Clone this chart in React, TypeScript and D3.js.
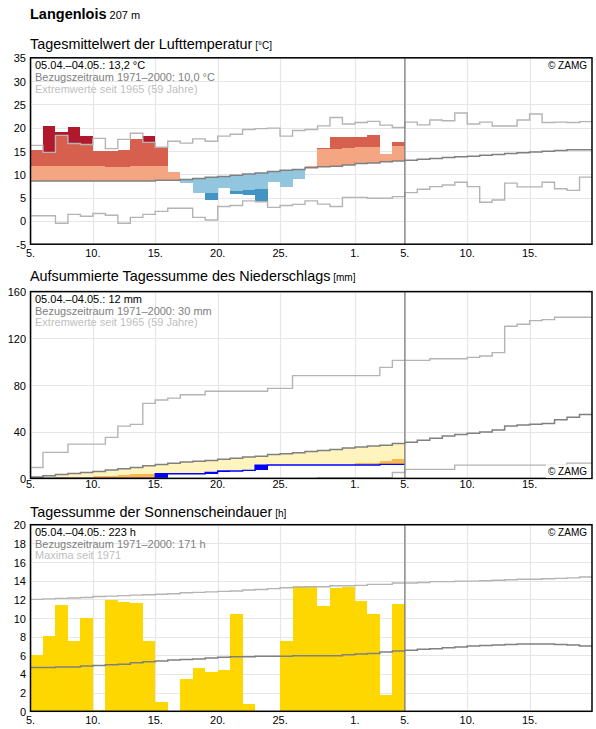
import React, { useEffect, useRef } from 'react';
import * as d3 from 'd3';

const FONT = '"Liberation Sans", Arial, Helvetica, sans-serif';

// days run from 5 April (index 0) to 19 May; observations cover 30 days
const totalDays = 45;
const todayIndex = 30;
const dayTicks = [0, 5, 10, 15, 20, 26, 30, 35, 40];
const dayTickLabels = ['5.', '10.', '15.', '20.', '25.', '1.', '5.', '10.', '15.'];

// air temperature (daily mean, °C)
const tempObserved = [15.2, 20.35, 19.0, 20.15, 18.2, 15.0, 15.0, 15.2, 17.6, 18.2, 15.6, 10.5, 8.2, 6.05, 4.55, 7.05, 5.85, 5.55, 4.3, 8.4, 7.3, 9.0, 11.75, 15.6, 18.0, 18.0, 18.0, 18.4, 14.35, 17.0];
const tempMean = [8.55, 8.55, 8.55, 8.55, 8.55, 8.55, 8.55, 8.55, 8.55, 8.55, 8.7, 8.7, 8.9, 9.1, 9.35, 9.55, 9.77, 10.05, 10.3, 10.6, 10.85, 11.05, 11.4, 11.6, 11.75, 12.0, 12.3, 12.4, 12.7, 12.85, 13.03, 13.25, 13.4, 13.6, 13.75, 13.9, 14.1, 14.25, 14.45, 14.6, 14.8, 14.95, 15.1, 15.25, 15.25];
const tempUpper = [11.8, 11.8, 11.8, 11.8, 11.8, 11.8, 11.6, 11.6, 11.8, 11.8, 11.8, 12.0, 12.2, 12.4, 12.7, 12.9, 13.1, 13.4, 13.6, 13.9, 14.1, 14.4, 14.9, 15.4, 15.4, 15.6, 15.85, 15.85, 16.0, 16.1];
const tempLower = [5.2, 5.2, 5.2, 5.2, 5.2, 5.2, 5.2, 5.2, 5.2, 5.2, 5.4, 5.5, 5.7, 5.9, 6.05, 6.3, 6.5, 6.7, 6.9, 7.0, 7.1, 7.5, 7.8, 8.0, 8.2, 8.4, 8.7, 8.9, 9.1, 9.3];
const tempMax = [16.2, 14.7, 18.35, 16.6, 16.4, 17.7, 15.5, 17.5, 18.8, 16.85, 15.8, 17.1, 16.7, 17.6, 17.1, 18.2, 18.6, 19.6, 19.8, 19.9, 18.2, 19.4, 19.6, 20.4, 22.2, 20.8, 21.1, 21.35, 20.55, 20.05, 21.2, 20.6, 21.65, 21.5, 23.15, 20.8, 21.2, 20.35, 20.35, 21.65, 22.95, 21.1, 21.2, 21.1, 21.3];
const tempMin = [1.1, 1.1, -0.5, 1.4, 1.0, 1.6, 1.2, -0.5, 0.75, 1.4, 2.05, 2.7, 2.7, 0.75, 0.2, 3.1, 3.3, 4.3, 4.1, 2.9, 3.3, 3.55, 4.3, 3.6, 3.1, 5.05, 5.05, 4.85, 4.85, 5.2, 6.07, 6.8, 7.35, 7.7, 8.3, 7.35, 4.0, 4.5, 8.1, 7.3, 7.3, 8.3, 6.9, 6.55, 9.4];

// precipitation (daily amounts, cumulative reference curves, mm)
const precipDaily = [0, 0, 0, 0, 0, 0, 0, 0, 0, 0, 4.0, 0, 0, 0, 1.1, 1.2, 0, 0.6, 4.3, 0.3, 0, 0, 0, 0, 0, 0, 0, 0, 0.5, 0];
const precipMean = [1.3, 2.3, 3.3, 4.3, 5.1, 6.0, 7.1, 8.2, 9.4, 10.9, 12.0, 13.0, 14.1, 14.7, 15.4, 16.4, 17.3, 18.3, 19.0, 20.5, 21.2, 22.0, 23.1, 24.0, 24.8, 26.0, 26.8, 27.7, 28.5, 30.0, 30.9, 32.6, 34.3, 36.3, 37.7, 38.6, 39.7, 41.4, 44.8, 45.7, 46.3, 47.1, 50.2, 52.3, 54.8];
const precipLower = [0.3, 0.6, 0.9, 1.2, 1.5, 1.9, 2.3, 2.7, 3.7, 3.7, 3.8, 3.9, 3.9, 4.0, 4.2, 4.5, 5.0, 5.5, 6.0, 6.5, 7.0, 7.8, 8.5, 9.5, 10.5, 11.2, 13.4, 13.4, 15.2, 16.3];
const precipMax = [9.4, 22.3, 22.3, 29.4, 29.4, 29.4, 35.1, 44.8, 46.3, 64.3, 67.1, 68.8, 71.7, 71.7, 74.6, 74.6, 74.6, 74.6, 74.6, 77.1, 77.1, 88, 88, 88, 88, 88, 88, 88, 95.1, 101.1, 101.1, 101.1, 102.5, 102.5, 102.5, 103.7, 104.8, 107.7, 130.3, 132, 135.1, 136, 138, 138, 138];
const precipMin = [0, 0, 0, 0, 0, 0, 0, 0, 0, 0, 0, 0, 0, 0, 0, 0, 0, 0, 0, 0, 0, 0, 0, 0.5, 0.5, 0.5, 0.5, 0.5, 0.5, 5.1, 7.7, 7.7, 7.7, 7.7, 11.4, 11.4, 11.4, 11.4, 11.4, 11.4, 11.4, 11.4, 11.4, 13.1, 13.1];

// sunshine duration (h per day)
const sunDaily = [6.0, 8.1, 11.4, 7.55, 10.05, 0.15, 11.95, 11.7, 11.6, 7.55, 0.95, 0, 3.45, 4.65, 4.2, 4.45, 10.45, 0.8, 0, 0, 7.55, 13.4, 13.35, 11.3, 13.25, 13.3, 11.85, 10.4, 1.7, 11.55];
const sunMean = [4.7, 4.7, 4.75, 4.75, 4.85, 4.9, 5.0, 5.05, 5.2, 5.3, 5.4, 5.5, 5.55, 5.6, 5.7, 5.8, 5.85, 5.85, 5.9, 5.9, 5.9, 5.95, 5.95, 5.95, 5.95, 6.05, 6.15, 6.2, 6.35, 6.45, 6.55, 6.65, 6.7, 6.8, 6.9, 7.0, 7.05, 7.1, 7.15, 7.2, 7.2, 7.2, 7.15, 7.1, 7.0];
const sunMax = [12.0, 12.05, 12.1, 12.15, 12.2, 12.3, 12.35, 12.4, 12.45, 12.5, 12.55, 12.6, 12.7, 12.75, 12.8, 12.85, 12.9, 13.0, 13.05, 13.15, 13.25, 13.3, 13.35, 13.35, 13.45, 13.45, 13.5, 13.6, 13.6, 13.75, 13.75, 13.8, 13.9, 13.9, 13.95, 13.95, 14.0, 14.05, 14.1, 14.15, 14.15, 14.2, 14.25, 14.3, 14.4];

const tempLegend = ['05.04.–04.05.: 13,2 °C', 'Bezugszeitraum 1971–2000: 10,0 °C', 'Extremwerte seit 1965 (59 Jahre)'];
const precipLegend = ['05.04.–04.05.: 12 mm', 'Bezugszeitraum 1971–2000: 30 mm', 'Extremwerte seit 1965 (59 Jahre)'];
const sunLegend = ['05.04.–04.05.: 223 h', 'Bezugszeitraum 1971–2000: 171 h', 'Maxima seit 1971'];

const colors = {
  grid: '#e6e6e6',
  mean: '#808080',
  extreme: '#b4b4b4',
  hot3: '#b2182b',
  hot2: '#d6604d',
  hot1: '#f4a582',
  cold1: '#92c5de',
  cold2: '#4393c3',
  cold3: '#2166ac',
  dry1: '#fff4bd',
  dry2: '#fdb947',
  rain: '#0000ff',
  sun: '#ffd700',
};

function App() {
  const svgRef = useRef<SVGSVGElement>(null);

  useEffect(() => {
    const plotLeft = 30.5;
    const plotRight = 592;

    d3.select(svgRef.current).selectAll('*').remove();
    const svg = d3.select(svgRef.current)
      .attr('width', 596)
      .attr('height', 729)
      .style('font-family', FONT);

    const x = d3.scaleLinear().domain([0, totalDays]).range([plotLeft, plotRight]);

    const stepPath = (values: number[], y: d3.ScaleLinear<number, number>) => {
      const pts: [number, number][] = values.map((v, i) => [i, v]);
      pts.push([values.length, values[values.length - 1]]);
      return d3.line<[number, number]>()
        .curve(d3.curveStepAfter)
        .x(d => x(d[0]))
        .y(d => y(d[1]))(pts);
    };

    const band = (g: any, i: number, y: any, v0: number, v1: number, fill: string) => {
      const a = Math.min(v0, v1), b = Math.max(v0, v1);
      if (b - a <= 0) return;
      g.append('rect')
        .attr('x', x(i))
        .attr('width', x(i + 1) - x(i))
        .attr('y', y(b))
        .attr('height', y(a) - y(b))
        .attr('fill', fill)
        .attr('shape-rendering', 'crispEdges');
    };

    // heading
    const head = svg.append('text').attr('x', 30).attr('y', 19);
    head.append('tspan').attr('font-weight', 'bold').attr('font-size', 14.5).text('Langenlois');
    head.append('tspan').attr('font-size', 11).text(' 207 m');

    const panel = (opts: {
      top: number; bottom: number; domain: [number, number]; ticks: number[];
      title: string; unit: string; titleGap: number; labelGap: number;
      legend: string[]; copyrightBottom?: boolean;
      draw: (g: any, y: any) => void;
    }) => {
      const y = d3.scaleLinear().domain(opts.domain).range([opts.bottom, opts.top]);
      const g = svg.append('g');

      const title = g.append('text').attr('x', 30).attr('y', opts.top - opts.titleGap);
      title.append('tspan').attr('font-size', 14.4).text(opts.title);
      title.append('tspan').attr('font-size', 10).text(' ' + opts.unit);

      // grid
      g.append('g').selectAll('line.h').data(opts.ticks).join('line')
        .attr('x1', plotLeft).attr('x2', plotRight)
        .attr('y1', d => Math.round(y(d)) + 0.5).attr('y2', d => Math.round(y(d)) + 0.5)
        .attr('stroke', colors.grid).attr('stroke-width', 1.2);
      g.append('g').selectAll('line.v').data(dayTicks).join('line')
        .attr('x1', d => Math.round(x(d)) + 0.5).attr('x2', d => Math.round(x(d)) + 0.5)
        .attr('y1', opts.top).attr('y2', opts.bottom)
        .attr('stroke', colors.grid).attr('stroke-width', 1.2);

      opts.draw(g, y);

      // today marker
      g.append('line')
        .attr('x1', x(todayIndex)).attr('x2', x(todayIndex))
        .attr('y1', opts.top).attr('y2', opts.bottom)
        .attr('stroke', colors.mean).attr('stroke-width', 1.3);

      // frame
      g.append('rect')
        .attr('x', plotLeft).attr('y', opts.top)
        .attr('width', plotRight - plotLeft).attr('height', opts.bottom - opts.top)
        .attr('fill', 'none').attr('stroke', '#000').attr('stroke-width', 1.5);

      // y tick labels
      g.append('g').selectAll('text').data(opts.ticks).join('text')
        .attr('x', 26).attr('y', d => y(d) + 4.5)
        .attr('text-anchor', 'end').attr('font-size', 11)
        .text(d => String(d));

      // x tick labels
      g.append('g').selectAll('text').data(dayTicks).join('text')
        .attr('x', d => x(d)).attr('y', opts.bottom + opts.labelGap)
        .attr('text-anchor', 'middle').attr('font-size', 11)
        .text((_, i) => dayTickLabels[i]);

      // legend
      const legendColors = ['#000', '#808080', '#c0c0c0'];
      opts.legend.forEach((line, i) => {
        g.append('text')
          .attr('x', 35).attr('y', opts.top + 11.3 + i * 11.7)
          .attr('font-size', 11).attr('fill', legendColors[i])
          .text(line);
      });

      const cy = opts.copyrightBottom ? opts.bottom - 3 : opts.top + 11.5;
      if (opts.copyrightBottom) {
        g.append('rect')
          .attr('x', 546).attr('y', cy - 11)
          .attr('width', 45).attr('height', 13.5)
          .attr('fill', '#fff');
      }
      g.append('text')
        .attr('x', 587).attr('y', cy)
        .attr('text-anchor', 'end').attr('font-size', 10)
        .text('© ZAMG');
    };

    // air temperature
    panel({
      top: 57.8, bottom: 244.2, domain: [-5, 35], ticks: d3.range(-5, 36, 5),
      title: 'Tagesmittelwert der Lufttemperatur', unit: '[°C]',
      titleGap: 8.5, labelGap: 12.5, legend: tempLegend,
      draw: (g, y) => {
        tempObserved.forEach((v, i) => {
          const m = tempMean[i];
          if (v >= m) {
            band(g, i, y, m, Math.min(v, tempUpper[i]), colors.hot1);
            if (v > tempUpper[i]) band(g, i, y, tempUpper[i], Math.min(v, tempMax[i]), colors.hot2);
            if (v > tempMax[i]) band(g, i, y, tempMax[i], v, colors.hot3);
          } else {
            band(g, i, y, m, Math.max(v, tempLower[i]), colors.cold1);
            if (v < tempLower[i]) band(g, i, y, tempLower[i], Math.max(v, tempMin[i]), colors.cold2);
            if (v < tempMin[i]) band(g, i, y, tempMin[i], v, colors.cold3);
          }
        });
        [tempMax, tempMin].forEach(s => g.append('path')
          .attr('d', stepPath(s, y)).attr('fill', 'none')
          .attr('stroke', colors.extreme).attr('stroke-width', 1.4));
        g.append('path').attr('d', stepPath(tempMean, y)).attr('fill', 'none')
          .attr('stroke', colors.mean).attr('stroke-width', 1.5);
      },
    });

    // precipitation, summed up day by day
    const precipCum = d3.cumsum(precipDaily);
    panel({
      top: 291.6, bottom: 478.4, domain: [0, 160], ticks: [0, 40, 80, 120, 160],
      title: 'Aufsummierte Tagessumme des Niederschlags', unit: '[mm]',
      titleGap: 11, labelGap: 10, legend: precipLegend, copyrightBottom: true,
      draw: (g, y) => {
        Array.from(precipCum).forEach((v, i) => {
          const m = precipMean[i];
          if (v < m) {
            band(g, i, y, m, Math.max(v, precipLower[i]), colors.dry1);
            if (v < precipLower[i]) band(g, i, y, precipLower[i], v, colors.dry2);
          }
          if (precipDaily[i] > 0) band(g, i, y, v - precipDaily[i], v, colors.rain);
        });
        [precipMax, precipMin].forEach(s => g.append('path')
          .attr('d', stepPath(s, y)).attr('fill', 'none')
          .attr('stroke', colors.extreme).attr('stroke-width', 1.4));
        g.append('path').attr('d', stepPath(precipMean, y)).attr('fill', 'none')
          .attr('stroke', colors.mean).attr('stroke-width', 1.5);
        g.append('path').attr('d', stepPath(Array.from(precipCum), y)).attr('fill', 'none')
          .attr('stroke', colors.rain).attr('stroke-width', 1.4);
      },
    });

    // sunshine duration
    panel({
      top: 524.7, bottom: 711.3, domain: [0, 20], ticks: d3.range(0, 21, 2),
      title: 'Tagessumme der Sonnenscheindauer', unit: '[h]',
      titleGap: 8, labelGap: 12.5, legend: sunLegend,
      draw: (g, y) => {
        sunDaily.forEach((v, i) => band(g, i, y, 0, v, colors.sun));
        g.append('path').attr('d', stepPath(sunMax, y)).attr('fill', 'none')
          .attr('stroke', colors.extreme).attr('stroke-width', 1.4);
        g.append('path').attr('d', stepPath(sunMean, y)).attr('fill', 'none')
          .attr('stroke', colors.mean).attr('stroke-width', 1.5);
      },
    });
  }, []);

  return <svg ref={svgRef} style={{ position: 'absolute', left: 0, top: 0 }}></svg>;
}

export default App;
